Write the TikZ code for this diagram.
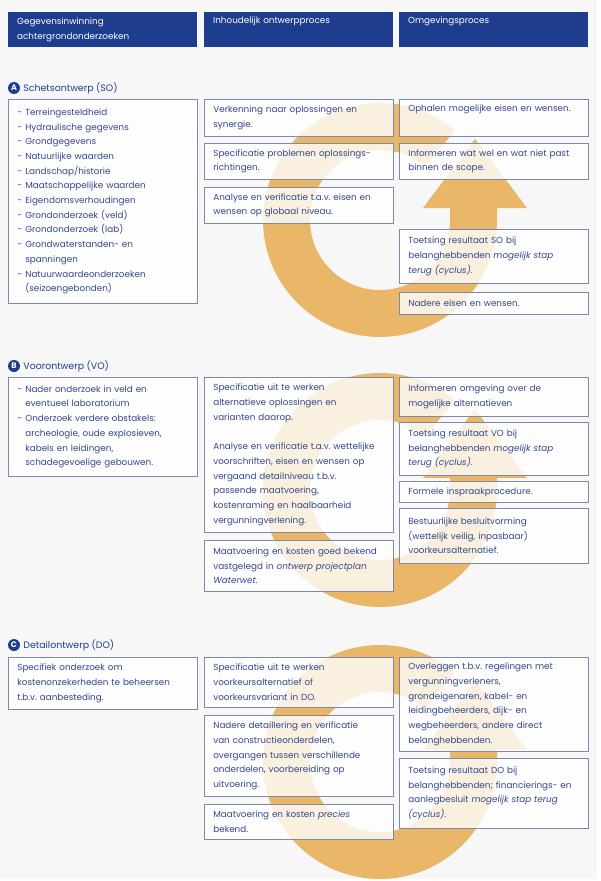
\documentclass[tikz,border=0pt]{standalone}
\usepackage{fontspec}
\setmainfont{Poppins}
\usepackage{tikz}
\usetikzlibrary{positioning,calc}
\frenchspacing
\definecolor{hdrblue}{RGB}{31,61,142}
\definecolor{txtblue}{RGB}{52,72,140}
\definecolor{lineblue}{RGB}{126,136,172}
\definecolor{ringorange}{RGB}{234,182,104}
\definecolor{pagebg}{RGB}{247,247,247}
\newcommand{\dsh}{\makebox[8pt][l]{-}}
\newcommand{\hng}{\hspace*{8pt}}
\tikzset{
txt/.style={font=\fontsize{8.8}{14.7}\selectfont},
hdr/.style={txt,fill=hdrblue,text=white,anchor=north west,align=left,
  text width=171pt,inner xsep=9pt,inner ysep=4pt,minimum height=35pt},
box/.style={txt,draw=lineblue,line width=0.7pt,fill=white,fill opacity=0.8,
  text opacity=1,text=txtblue,anchor=north west,align=left,
  text width=171pt,inner xsep=9pt,inner ysep=4pt,minimum height=#1},
box/.default=30pt,
phase/.style={circle,fill=hdrblue,text=white,inner sep=0pt,minimum size=12pt,
  font=\fontsize{8}{8}\selectfont\bfseries},
phasetxt/.style={text=hdrblue,inner sep=0pt,font=\fontsize{9.4}{11}\selectfont},
ring/.pic={
  \fill[ringorange] (-50:117) arc[start angle=-50,end angle=-360,radius=117]
    -- (117,-12) -- (147,-12) -- (95,-81) -- (43,-12) -- (70,-12) -- (70,0)
    arc[start angle=0,end angle=310,radius=70] -- cycle;
},
}
\begin{document}
\begin{tikzpicture}[x=1pt,y=-1pt]
	\useasboundingbox (0,0) rectangle (600,881);
	\fill[pagebg] (0,0) rectangle (597,879);

	\pic at (380,220) {ring};
	\pic at (380,490) {ring};
	\pic at (380,762) {ring};

	\node[hdr] (h1) at (8,12) {Gegevensinwinning\\achtergrondonderzoeken};
	\node[hdr] (h2) at (204,12) {Inhoudelijk ontwerpproces\\\strut};
	\node[hdr] (h3) at (399,12) {Omgevingsproces\\\strut};

	\node[phase] (pA) at (14,88) {A};
	\node[phasetxt,right=3pt of pA] (tA) {Schetsontwerp (SO)};

	\node[box=204pt] (lA) at (8,99) {\dsh Terreingesteldheid\\\dsh Hydraulische gegevens\\\dsh Grondgegevens\\\dsh Natuurlijke waarden\\\dsh Landschap/historie\\\dsh Maatschappelijke waarden\\\dsh Eigendomsverhoudingen\\\dsh Grondonderzoek (veld)\\\dsh Grondonderzoek (lab)\\\dsh Grondwaterstanden- en\\\hng spanningen\\\dsh Natuurwaardeonderzoeken\\\hng (seizoengebonden)};
	\node[box=37pt] (mA1) at (204,99) {Verkenning naar oplossingen en\\synergie.};
	\node[box=36pt] (mA2) at (204,143) {Specificatie problemen oplossings-\\richtingen.};
	\node[box=36pt] (mA3) at (204,187) {Analyse en verificatie t.a.v. eisen en\\wensen op globaal niveau.};
	\node[box=37pt] (rA1) at (399,99) {Ophalen mogelijke eisen en wensen.\\\strut};
	\node[box=36pt] (rA2) at (399,143) {Informeren wat wel en wat niet past\\binnen de scope.};
	\node[box=54pt] (rA3) at (399,229) {Toetsing resultaat SO bij\\belanghebbenden \emph{mogelijk stap}\\\emph{terug (cyclus)}.};
	\node[box=22pt] (rA4) at (399,292) {Nadere eisen en wensen.};

	\node[phase] (pB) at (14,366) {B};
	\node[phasetxt,right=3pt of pB] (tB) {Voorontwerp (VO)};

	\node[box=99pt] (lB) at (8,377) {\dsh Nader onderzoek in veld en\\\hng eventueel laboratorium\\\dsh Onderzoek verdere obstakels:\\\hng archeologie, oude explosieven,\\\hng kabels en leidingen,\\\hng schadegevoelige gebouwen.};
	\node[box=155pt] (mB1) at (204,377) {Specificatie uit te werken\\alternatieve oplossingen en\\varianten daarop.\\[14.7pt]Analyse en verificatie t.a.v. wettelijke\\voorschriften, eisen en wensen op\\vergaand detailniveau t.b.v.\\passende maatvoering,\\kostenraming en haalbaarheid\\vergunningverlening.};
	\node[box=51pt] (mB2) at (204,540) {Maatvoering en kosten goed bekend\\vastgelegd in \emph{ontwerp projectplan}\\\emph{Waterwet}.};
	\node[box=39pt] (rB1) at (399,377) {Informeren omgeving over de\\mogelijke alternatieven};
	\node[box=53pt] (rB2) at (399,422) {Toetsing resultaat VO bij\\belanghebbenden \emph{mogelijk stap}\\\emph{terug (cyclus)}.};
	\node[box=21pt] (rB3) at (399,481) {Formele inspraakprocedure.};
	\node[box=55pt] (rB4) at (399,508) {Bestuurlijke besluitvorming\\(wettelijk veilig, inpasbaar)\\voorkeursalternatief.};

	\node[phase] (pC) at (14,645) {C};
	\node[phasetxt,right=3pt of pC] (tC) {Detailontwerp (DO)};

	\node[box=52pt] (lC) at (8,657) {Specifiek onderzoek om\\kostenonzekerheden te beheersen\\t.b.v. aanbesteding.};
	\node[box=50pt] (mC1) at (204,657) {Specificatie uit te werken\\voorkeursalternatief of\\voorkeursvariant in DO.};
	\node[box=81pt] (mC2) at (204,715) {Nadere detaillering en verificatie\\van constructieonderdelen,\\overgangen tussen verschillende\\onderdelen, voorbereiding op\\uitvoering.};
	\node[box=35pt] (mC3) at (204,804) {Maatvoering en kosten \emph{precies}\\bekend.};
	\node[box=94pt] (rC1) at (399,657) {Overleggen t.b.v. regelingen met\\vergunningverleners,\\grondeigenaren, kabel- en\\leidingbeheerders, dijk- en\\wegbeheerders, andere direct\\belanghebbenden.};
	\node[box=70pt] (rC2) at (399,758) {Toetsing resultaat DO bij\\belanghebbenden; financierings- en\\aanlegbesluit \emph{mogelijk stap terug}\\\emph{(cyclus)}.};
\end{tikzpicture}
\end{document}
